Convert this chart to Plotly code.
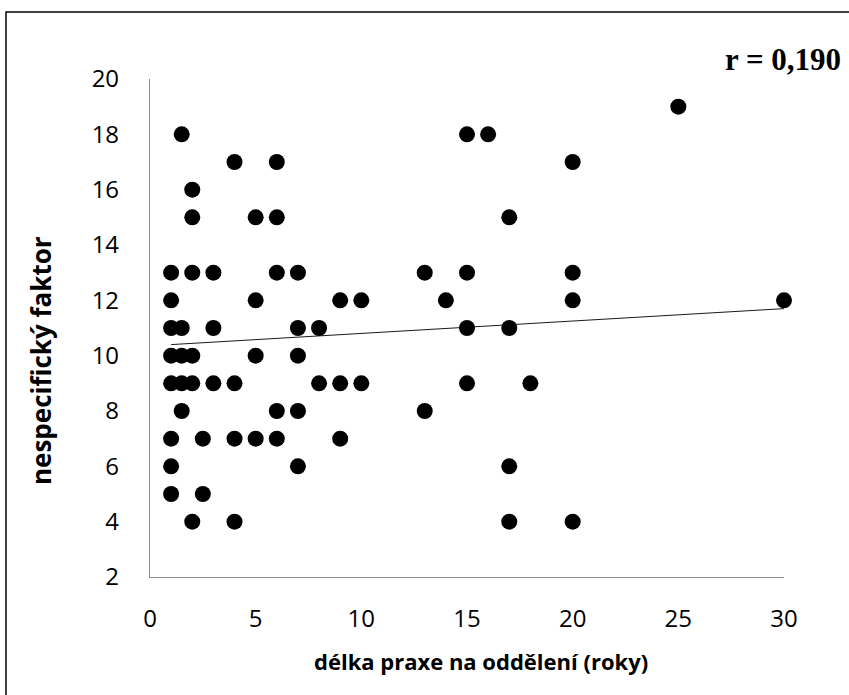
import plotly.graph_objects as go

# data
praxe = [1.5, 4, 6, 2, 2, 5, 6,
         1, 2, 3, 6, 7,
         1, 5, 9, 10,
         1, 1.5, 3, 7, 8,
         1, 1.5, 2, 5, 7,
         1, 1.5, 2, 3, 4, 8, 9, 10,
         1.5, 6, 7,
         1, 2.5, 4, 5, 6, 9,
         1, 7,
         1, 2.5,
         2, 4,
         25, 15, 16, 20, 17,
         13, 15, 20,
         14, 20, 30,
         15, 17,
         15, 18,
         13,
         17,
         17, 20]
faktor = [18, 17, 17, 16, 15, 15, 15,
          13, 13, 13, 13, 13,
          12, 12, 12, 12,
          11, 11, 11, 11, 11,
          10, 10, 10, 10, 10,
          9, 9, 9, 9, 9, 9, 9, 9,
          8, 8, 8,
          7, 7, 7, 7, 7, 7,
          6, 6,
          5, 5,
          4, 4,
          19, 18, 18, 17, 15,
          13, 13, 13,
          12, 12, 12,
          11, 11,
          9, 9,
          8,
          6,
          4, 4]
# linear trend line as drawn in the reference (end points)
trend_x = [1, 30]
trend_y = [10.40, 11.70]
x_ticks = [0, 5, 10, 15, 20, 25, 30]
y_ticks = [2, 4, 6, 8, 10, 12, 14, 16, 18, 20]
r_text = "r = 0,190"
x_title = "délka praxe na oddělení (roky)"
y_title = "nespecifický faktor"

W, H = 849, 695
L, R, T, B = 150, 65, 79, 118
pw, ph = W - L - R, H - T - B


def px(xp):
    return (xp - L) / pw


def py(yp):
    return (H - B - yp) / ph


fig = go.Figure()
fig.add_trace(go.Scatter(x=trend_x, y=trend_y, mode="lines",
                         line=dict(color="#1a1a1a", width=1),
                         hoverinfo="skip", cliponaxis=False))
fig.add_trace(go.Scatter(x=praxe, y=faktor, mode="markers",
                         marker=dict(color="black", size=16, line=dict(width=0)),
                         cliponaxis=False))

fig.update_layout(
    width=W, height=H,
    margin=dict(l=L, r=R, t=T, b=B),
    paper_bgcolor="white", plot_bgcolor="white",
    showlegend=False,
    font=dict(family="Open Sans", color="black"),
    xaxis=dict(range=[0, 30], tickvals=x_ticks, showgrid=False, zeroline=False,
               showline=True, linecolor="#8c8c8c", linewidth=1.2,
               ticks="", tickfont=dict(size=24, family="Open Sans", color="black"),
               ticklabelstandoff=20),
    yaxis=dict(range=[2, 20], tickvals=y_ticks, showgrid=False, zeroline=False,
               showline=True, linecolor="#8c8c8c", linewidth=1.2,
               ticks="", tickfont=dict(size=24, family="Open Sans", color="black"),
               ticklabelstandoff=25),
    shapes=[dict(type="rect", xref="paper", yref="paper",
                 x0=px(6), x1=px(880), y0=py(720), y1=py(12),
                 line=dict(color="black", width=1.5), fillcolor="rgba(0,0,0,0)")],
    annotations=[
        dict(text="<b>" + r_text + "</b>", xref="paper", yref="paper",
             x=px(843), y=py(60), xanchor="right", yanchor="middle",
             showarrow=False, font=dict(family="Liberation Serif", size=31, color="black")),
        dict(text="<b>" + x_title + "</b>", xref="paper", yref="paper",
             x=px(481), y=py(661), xanchor="center", yanchor="middle",
             showarrow=False, font=dict(family="Open Sans", size=22, color="black")),
        dict(text="<b>" + y_title + "</b>", xref="paper", yref="paper",
             x=px(41), y=py(360), xanchor="center", yanchor="middle", textangle=-90,
             showarrow=False, font=dict(family="Open Sans", size=26, color="black")),
    ],
)

fig.write_html("out.html", config={"displayModeBar": False},
               post_script="document.body.style.margin='0px';")
